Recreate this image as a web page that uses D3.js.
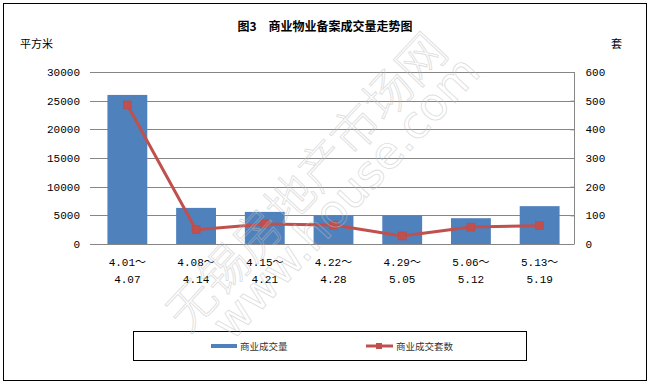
<!DOCTYPE html>
<html><head><meta charset="utf-8">
<script src="https://cdn.jsdelivr.net/npm/d3@7"></script>
<style>body{margin:0;background:#fff}svg{display:block}</style>
</head><body>
<svg id="c" width="650" height="384"></svg>
<script>
const categories = [["4.01～","4.07"],["4.08～","4.14"],["4.15～","4.21"],["4.22～","4.28"],["4.29～","5.05"],["5.06～","5.12"],["5.13～","5.19"]];
const areaValues = [26000, 6300, 5600, 5000, 5000, 4500, 6600];
const unitValues = [485, 50, 70, 66, 28, 59, 64];
const leftTicks = [0,5000,10000,15000,20000,25000,30000];
const rightTicks = [0,100,200,300,400,500,600];
const seriesNames = ["商业成交量","商业成交套数"];

const svg = d3.select("#c");
const M = {l:93, r:574, t:72, b:244};
const mono = "'Liberation Mono','Noto Sans CJK SC',monospace";
const cjk = "'Noto Sans CJK SC',sans-serif";

svg.append("rect").attr("x",3.5).attr("y",3.5).attr("width",643).attr("height",377)
  .attr("fill","#fff").attr("stroke","#000").attr("stroke-width",1);

const x = d3.scaleBand().domain(d3.range(categories.length)).range([M.l, M.r]).paddingInner(0.42).paddingOuter(0.21);
const yL = d3.scaleLinear().domain([0,30000]).range([M.b, M.t]);
const yR = d3.scaleLinear().domain([0,600]).range([M.b, M.t]);

// gridlines
svg.append("g").selectAll("line").data(leftTicks).join("line")
  .attr("x1",M.l-3).attr("x2",M.r).attr("y1",d=>Math.round(yL(d))+0.5).attr("y2",d=>Math.round(yL(d))+0.5)
  .attr("stroke","#868686").attr("stroke-width",1);

// left axis labels
const ax = d3.axisLeft(yL).tickValues(leftTicks).tickFormat(d3.format("d")).tickSize(0).tickPadding(13);
const gL = svg.append("g").attr("transform",`translate(${M.l},0)`).call(ax);
gL.select(".domain").remove();
gL.selectAll("text").attr("font-family",mono).attr("font-size",11).attr("fill","#000");

// right axis
const axR = d3.axisRight(yR).tickValues(rightTicks).tickFormat(d3.format("d")).tickSize(4).tickPadding(7);
const gR = svg.append("g").attr("transform",`translate(${M.r+0.5},0)`).call(axR);
gR.select(".domain").attr("stroke","#868686").attr("d",`M0,${M.t}V${M.b}`);
gR.selectAll(".tick line").attr("stroke","#868686").attr("x1",-4).attr("x2",0);
gR.selectAll("text").attr("font-family",mono).attr("font-size",11).attr("fill","#000");

// bars
svg.append("g").selectAll("rect").data(areaValues).join("rect")
  .attr("x",(d,i)=>x(i)).attr("width",x.bandwidth())
  .attr("y",d=>yL(d)).attr("height",d=>yL(0)-yL(d)).attr("fill","#4F81BD");

// line
const cx = i => x(i)+x.bandwidth()/2;
svg.append("path").datum(unitValues)
  .attr("d",d3.line().x((d,i)=>cx(i)).y(d=>yR(d)))
  .attr("fill","none").attr("stroke","#C0504D").attr("stroke-width",3).attr("stroke-linejoin","round");
svg.append("g").selectAll("rect").data(unitValues).join("rect")
  .attr("x",(d,i)=>cx(i)-4).attr("y",d=>yR(d)-4).attr("width",8).attr("height",8)
  .attr("fill","#C0504D").attr("stroke","#B84A47").attr("stroke-width",0.5);

// x labels
const xl = svg.append("g").selectAll("g").data(categories).join("g");
xl.append("text").attr("x",(d,i)=>cx(i)).attr("y",266).attr("text-anchor","middle")
  .attr("font-family",mono).attr("font-size",11).text(d=>d[0]);
xl.append("text").attr("x",(d,i)=>cx(i)).attr("y",283).attr("text-anchor","middle")
  .attr("font-family",mono).attr("font-size",11).text(d=>d[1]);

// title and units
svg.append("text").attr("x",325).attr("y",31).attr("text-anchor","middle")
  .attr("font-family",cjk).attr("font-size",12).attr("font-weight","bold").text("图3　商业物业备案成交量走势图");
svg.append("text").attr("x",20).attr("y",48).attr("font-family",cjk).attr("font-size",11).text("平方米");
svg.append("text").attr("x",611).attr("y",48).attr("font-family",cjk).attr("font-size",11).text("套");

// legend
svg.append("rect").attr("x",133.5).attr("y",331.5).attr("width",393).attr("height",29)
  .attr("fill","#fff").attr("stroke","#000").attr("stroke-width",1);
svg.append("rect").attr("x",211).attr("y",344).attr("width",26).attr("height",4).attr("fill","#4F81BD");
svg.append("text").attr("x",240).attr("y",350).attr("font-family",cjk).attr("font-size",9.5).attr("fill","#333").text(seriesNames[0]);
svg.append("line").attr("x1",366).attr("x2",393).attr("y1",346).attr("y2",346).attr("stroke","#C0504D").attr("stroke-width",3);
svg.append("rect").attr("x",376).attr("y",343).attr("width",6).attr("height",6).attr("fill","#C0504D");
svg.append("text").attr("x",396).attr("y",350).attr("font-family",cjk).attr("font-size",9.5).attr("fill","#333").text(seriesNames[1]);

// watermark (faint outline text)
const wm1 = svg.append("g").attr("transform","translate(188,334) rotate(-47)");
wm1.append("text").attr("font-family",cjk).attr("font-size",48).attr("font-weight",300)
  .attr("fill","none").attr("stroke","rgba(190,190,190,0.5)").attr("stroke-width",0.9)
  .text("无锡房地产市场网");
const wm2 = svg.append("g").attr("transform","translate(232,342) rotate(-47)");
wm2.append("text").attr("font-family","'DejaVu Sans',sans-serif").attr("font-size",45)
  .attr("fill","none").attr("stroke","rgba(190,190,190,0.5)").attr("stroke-width",0.9)
  .text("www.house.com");
</script>
</body></html>
